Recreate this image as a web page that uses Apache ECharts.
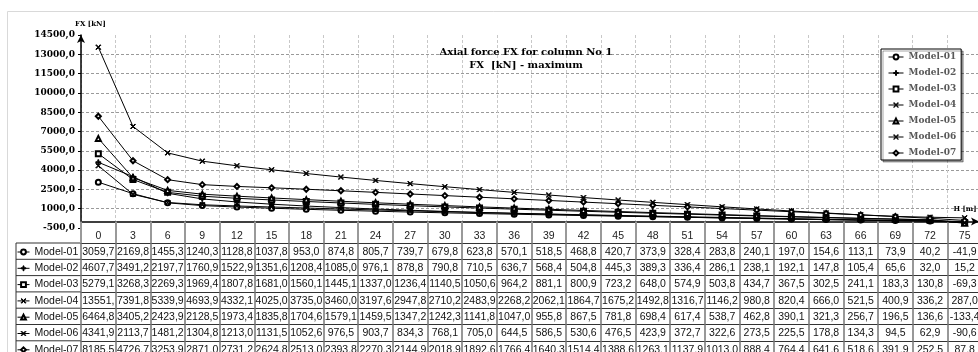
<!DOCTYPE html>
<html>
<head>
<meta charset="utf-8">
<script src="https://cdn.jsdelivr.net/npm/echarts@6/dist/echarts.min.js"></script>
<style>
    html, body { margin: 0; padding: 0; background: #fff; }
    #main { width: 978px; height: 352px; }
</style>
</head>
<body>
<div id="main"></div>
<script>
// heights along the column [m]
const heights = [0, 3, 6, 9, 12, 15, 18, 21, 24, 27, 30, 33, 36, 39, 42, 45, 48, 51, 54, 57, 60, 63, 66, 69, 72, 75];
const yTicks = [-500, 1000, 2500, 4000, 5500, 7000, 8500, 10000, 11500, 13000, 14500];

const models = ['Model-01', 'Model-02', 'Model-03', 'Model-04', 'Model-05', 'Model-06', 'Model-07'];

const model01 = [3059.7, 2169.8, 1455.3, 1240.3, 1128.8, 1037.8, 953.0, 874.8, 805.7, 739.7, 679.8, 623.8, 570.1, 518.5, 468.8, 420.7, 373.9, 328.4, 283.8, 240.1, 197.0, 154.6, 113.1, 73.9, 40.2, -41.9];
const model02 = [4607.7, 3491.2, 2197.7, 1760.9, 1522.9, 1351.6, 1208.4, 1085.0, 976.1, 878.8, 790.8, 710.5, 636.7, 568.4, 504.8, 445.3, 389.3, 336.4, 286.1, 238.1, 192.1, 147.8, 105.4, 65.6, 32.0, 15.2];
const model03 = [5279.1, 3268.3, 2269.3, 1969.4, 1807.8, 1681.0, 1560.1, 1445.1, 1337.0, 1236.4, 1140.5, 1050.6, 964.2, 881.1, 800.9, 723.2, 648.0, 574.9, 503.8, 434.7, 367.5, 302.5, 241.1, 183.3, 130.8, -69.3];
const model04 = [13551.0, 7391.8, 5339.9, 4693.9, 4332.1, 4025.0, 3735.0, 3460.0, 3197.6, 2947.8, 2710.2, 2483.9, 2268.2, 2062.1, 1864.7, 1675.2, 1492.8, 1316.7, 1146.2, 980.8, 820.4, 666.0, 521.5, 400.9, 336.2, 287.0];
const model05 = [6464.8, 3405.2, 2423.9, 2128.5, 1973.4, 1835.8, 1704.6, 1579.1, 1459.5, 1347.2, 1242.3, 1141.8, 1047.0, 955.8, 867.5, 781.8, 698.4, 617.4, 538.7, 462.8, 390.1, 321.3, 256.7, 196.5, 136.6, -133.4];
const model06 = [4341.9, 2113.7, 1481.2, 1304.8, 1213.0, 1131.5, 1052.6, 976.5, 903.7, 834.3, 768.1, 705.0, 644.5, 586.5, 530.6, 476.5, 423.9, 372.7, 322.6, 273.5, 225.5, 178.8, 134.3, 94.5, 62.9, -90.6];
const model07 = [8185.5, 4726.7, 3253.9, 2871.0, 2731.2, 2624.8, 2513.0, 2393.8, 2270.3, 2144.9, 2018.9, 1892.6, 1766.4, 1640.3, 1514.4, 1388.6, 1263.1, 1137.9, 1013.0, 888.4, 764.4, 641.6, 518.6, 391.9, 252.5, 87.8];

const rows = [model01, model02, model03, model04, model05, model06, model07];

const plusPath = 'path://M4,0h2v4h4v2h-4v4h-2v-4h-4v-2h4z';
const crossPath = 'path://M1,0L5,4L9,0L10,1L6,5L10,9L9,10L5,6L1,10L0,9L4,5L0,1Z';
const symbols = ['emptyCircle', plusPath, 'emptyRect', crossPath, 'emptyTriangle', crossPath, 'emptyDiamond'];

// layout of the data table under the plot
const gridLeft = 81;
const gridTop = 35;
const gridHeight = 193;
const gridBottomY = gridTop + gridHeight;
const tableTop = 243;
const rowH = 16.3;
const tableLeft = 16;

const serif = 'DejaVu Serif';
const sans = 'Liberation Sans';

// excel cuts the cell text, 13551,0 -> 13551,
const fmtCell = (v) => v.toFixed(1).replace('.', ',').slice(0, 6);

const rowAxes = rows.map((row, k) => ({
    type: 'category',
    position: 'bottom',
    offset: tableTop + rowH * k - gridBottomY,
    data: heights,
    boundaryGap: true,
    axisLine: { show: true, onZero: false, lineStyle: { color: '#333', width: 1 } },
    axisTick: { show: true, interval: 0, length: rowH, lineStyle: { color: '#777', width: 1.5 } },
    axisLabel: {
        interval: 0,
        margin: 3,
        fontFamily: sans,
        fontSize: 10.5,
        lineHeight: 12,
        color: '#111',
        formatter: (value, index) => fmtCell(row[index]),
    },
    splitLine: { show: false },
}));

const labelColLines = [];
for (let k = 0; k <= 7; k++) {
    labelColLines.push({
        type: 'line',
        shape: { x1: tableLeft, y1: tableTop + rowH * k, x2: gridLeft, y2: tableTop + rowH * k },
        style: { stroke: '#333', lineWidth: 1 },
    });
}
labelColLines.push({
    type: 'line',
    shape: { x1: tableLeft, y1: tableTop, x2: tableLeft, y2: 360 },
    style: { stroke: '#333', lineWidth: 1 },
});

const option = {
    animation: false,
    backgroundColor: '#fff',
    title: {
        text: 'Axial force FX for column No 1\nFX  [kN] - maximum',
        left: 521,
        top: 41,
        textAlign: 'center',
        textStyle: {
            fontFamily: serif,
            fontWeight: 'bold',
            fontSize: 10,
            lineHeight: 13,
            color: '#000',
        },
    },
    legend: [
        {
            data: models,
            orient: 'vertical',
            left: 881,
            top: 49,
            height: 120,
            padding: [1, 5, 0, 7],
            itemWidth: 15,
            itemHeight: 6,
            itemGap: 2,
            backgroundColor: '#fff',
            borderColor: '#000',
            borderWidth: 1,
            shadowColor: 'rgba(0,0,0,0.35)',
            shadowOffsetX: 2,
            shadowOffsetY: 2,
            itemStyle: { borderWidth: 1 },
            lineStyle: { width: 1 },
            textStyle: {
                fontFamily: serif,
                fontWeight: 'bold',
                fontSize: 9,
                lineHeight: 14,
                color: '#595959',
            },
        },
        {
            data: models,
            orient: 'vertical',
            left: tableLeft + 1,
            top: tableTop + 2,
            height: 130,
            padding: 0,
            itemWidth: 12,
            itemHeight: 6,
            itemGap: rowH - 14,
            itemStyle: { borderWidth: 1 },
            lineStyle: { width: 1 },
            textStyle: {
                fontFamily: sans,
                fontSize: 10.5,
                lineHeight: 14,
                color: '#111',
            },
        },
    ],
    grid: {
        left: gridLeft,
        top: gridTop,
        width: 901,
        height: gridHeight,
        outerBoundsMode: 'none',
        containLabel: false,
    },
    xAxis: [
        {
            type: 'category',
            data: heights,
            boundaryGap: true,
            name: 'H [m]',
            nameLocation: 'end',
            nameGap: -17,
            nameMoveOverlap: false,
            nameTextStyle: {
                fontFamily: serif,
                fontWeight: 'bold',
                fontSize: 7,
                color: '#000',
                align: 'center',
                verticalAlign: 'bottom',
                padding: [0, 0, 9, 0],
            },
            axisLine: {
                show: true,
                onZero: true,
                symbol: ['none', 'arrow'],
                symbolSize: [6, 8],
                symbolOffset: [0, -3],
                lineStyle: { color: '#000', width: 1.5 },
            },
            axisTick: { show: true, interval: 0, length: tableTop - 221.6, lineStyle: { color: '#999', width: 2 } },
            axisLabel: {
                interval: 0,
                margin: 2,
                fontFamily: sans,
                fontSize: 10.5,
                lineHeight: 12,
                color: '#222',
            },
            splitLine: {
                show: true,
                interval: 0,
                lineStyle: { color: '#c8c8c8', type: [3, 2], width: 1 },
            },
        },
    ].concat(rowAxes),
    yAxis: {
        type: 'value',
        min: yTicks[0],
        max: yTicks[yTicks.length - 1],
        interval: yTicks[1] - yTicks[0],
        name: 'FX [kN]',
        nameLocation: 'end',
        nameGap: 7,
        nameMoveOverlap: false,
        nameTextStyle: {
            fontFamily: serif,
            fontWeight: 'bold',
            fontSize: 7,
            color: '#000',
            align: 'left',
            padding: [0, 0, 0, -6],
        },
        axisLine: {
            show: true,
            onZero: false,
            symbol: ['none', 'arrow'],
            symbolSize: [6, 8],
            lineStyle: { color: '#000', width: 1.5 },
        },
        axisTick: { show: true, length: 3, lineStyle: { color: '#000' } },
        axisLabel: {
            margin: 6,
            fontFamily: serif,
            fontWeight: 'bold',
            fontSize: 9,
            color: '#000',
            formatter: (v) => v.toFixed(1).replace('.', ','),
        },
        splitLine: {
            show: true,
            showMinLine: false,
            showMaxLine: false,
            lineStyle: { color: '#9a9a9a', type: [3, 2], width: 1 },
        },
    },
    graphic: [
        {
            type: 'rect',
            shape: { x: 7.5, y: 11.5, width: 1000, height: 400 },
            style: { fill: 'none', stroke: '#d9d9d9', lineWidth: 1 },
            z: -10,
        },
    ].concat(labelColLines),
    series: models.map((name, i) => ({
        name: name,
        type: 'line',
        xAxisIndex: 0,
        data: rows[i],
        symbol: symbols[i],
        symbolSize: 5,
        showAllSymbol: true,
        color: '#000',
        lineStyle: { color: '#000', width: 1 },
        itemStyle: { color: '#000', borderColor: '#000', borderWidth: 1 },
    })),
};

const chart = echarts.init(document.getElementById('main'));
chart.setOption(option);
</script>
</body>
</html>
